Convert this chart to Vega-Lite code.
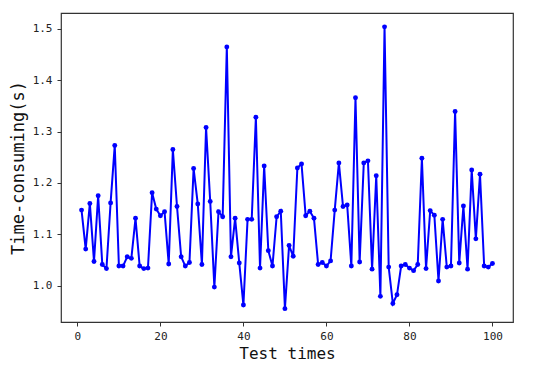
{
  "$schema": "https://vega.github.io/schema/vega-lite/v6.json",
  "width": 452,
  "height": 309,
  "autosize": {"type": "none"},
  "padding": {"left": 61, "top": 13, "right": 37, "bottom": 56},
  "background": "white",
  "config": {
    "view": {"stroke": "#333333", "strokeWidth": 1.2},
    "font": "DejaVu Sans Mono",
    "axis": {
      "grid": false,
      "domain": false,
      "tickColor": "#333333",
      "tickSize": 4,
      "labelColor": "#222222",
      "titleColor": "#111111",
      "labelFont": "DejaVu Sans Mono",
      "titleFont": "DejaVu Sans Mono",
      "titleFontWeight": "normal",
      "labelFontSize": 11
    }
  },
  "data": {
    "values": [
      {"t": 1, "v": 1.147}, {"t": 2, "v": 1.071}, {"t": 3, "v": 1.160}, {"t": 4, "v": 1.047}, {"t": 5, "v": 1.175},
      {"t": 6, "v": 1.041}, {"t": 7, "v": 1.033}, {"t": 8, "v": 1.161}, {"t": 9, "v": 1.273}, {"t": 10, "v": 1.038},
      {"t": 11, "v": 1.038}, {"t": 12, "v": 1.056}, {"t": 13, "v": 1.053}, {"t": 14, "v": 1.131}, {"t": 15, "v": 1.038},
      {"t": 16, "v": 1.033}, {"t": 17, "v": 1.034}, {"t": 18, "v": 1.181}, {"t": 19, "v": 1.149}, {"t": 20, "v": 1.136},
      {"t": 21, "v": 1.144}, {"t": 22, "v": 1.042}, {"t": 23, "v": 1.265}, {"t": 24, "v": 1.154}, {"t": 25, "v": 1.056},
      {"t": 26, "v": 1.038}, {"t": 27, "v": 1.045}, {"t": 28, "v": 1.228}, {"t": 29, "v": 1.159}, {"t": 30, "v": 1.041},
      {"t": 31, "v": 1.308}, {"t": 32, "v": 1.164}, {"t": 33, "v": 0.997}, {"t": 34, "v": 1.144}, {"t": 35, "v": 1.134},
      {"t": 36, "v": 1.465}, {"t": 37, "v": 1.056}, {"t": 38, "v": 1.131}, {"t": 39, "v": 1.044}, {"t": 40, "v": 0.962},
      {"t": 41, "v": 1.129}, {"t": 42, "v": 1.129}, {"t": 43, "v": 1.328}, {"t": 44, "v": 1.034}, {"t": 45, "v": 1.233},
      {"t": 46, "v": 1.068}, {"t": 47, "v": 1.038}, {"t": 48, "v": 1.134}, {"t": 49, "v": 1.145}, {"t": 50, "v": 0.955},
      {"t": 51, "v": 1.078}, {"t": 52, "v": 1.057}, {"t": 53, "v": 1.229}, {"t": 54, "v": 1.237}, {"t": 55, "v": 1.136},
      {"t": 56, "v": 1.145}, {"t": 57, "v": 1.131}, {"t": 58, "v": 1.041}, {"t": 59, "v": 1.045}, {"t": 60, "v": 1.038},
      {"t": 61, "v": 1.048}, {"t": 62, "v": 1.147}, {"t": 63, "v": 1.239}, {"t": 64, "v": 1.154}, {"t": 65, "v": 1.157},
      {"t": 66, "v": 1.038}, {"t": 67, "v": 1.366}, {"t": 68, "v": 1.046}, {"t": 69, "v": 1.239}, {"t": 70, "v": 1.243},
      {"t": 71, "v": 1.032}, {"t": 72, "v": 1.214}, {"t": 73, "v": 0.979}, {"t": 74, "v": 1.504}, {"t": 75, "v": 1.036},
      {"t": 76, "v": 0.965}, {"t": 77, "v": 0.982}, {"t": 78, "v": 1.038}, {"t": 79, "v": 1.041}, {"t": 80, "v": 1.034},
      {"t": 81, "v": 1.029}, {"t": 82, "v": 1.041}, {"t": 83, "v": 1.248}, {"t": 84, "v": 1.033}, {"t": 85, "v": 1.146},
      {"t": 86, "v": 1.137}, {"t": 87, "v": 1.009}, {"t": 88, "v": 1.129}, {"t": 89, "v": 1.036}, {"t": 90, "v": 1.038},
      {"t": 91, "v": 1.339}, {"t": 92, "v": 1.044}, {"t": 93, "v": 1.155}, {"t": 94, "v": 1.032}, {"t": 95, "v": 1.225},
      {"t": 96, "v": 1.091}, {"t": 97, "v": 1.217}, {"t": 98, "v": 1.038}, {"t": 99, "v": 1.036}, {"t": 100, "v": 1.043}
    ]
  },
  "mark": {"type": "line", "color": "#0000ff", "strokeWidth": 2, "point": {"filled": true, "color": "#0000ff", "size": 24, "opacity": 1}},
  "encoding": {
    "x": {
      "field": "t", "type": "quantitative",
      "scale": {"domain": [-3.95, 104.95], "nice": false, "zero": false},
      "axis": {"values": [0, 20, 40, 60, 80, 100], "title": "Test times", "titleFontSize": 16, "titlePadding": 4, "labelPadding": 4}
    },
    "y": {
      "field": "v", "type": "quantitative",
      "scale": {"domain": [0.929, 1.531], "nice": false, "zero": false},
      "axis": {"values": [1.0, 1.1, 1.2, 1.3, 1.4, 1.5], "format": ".1f", "title": "Time-consuming(s)", "titleFontSize": 17, "titlePadding": 5, "labelPadding": 5}
    }
  }
}
